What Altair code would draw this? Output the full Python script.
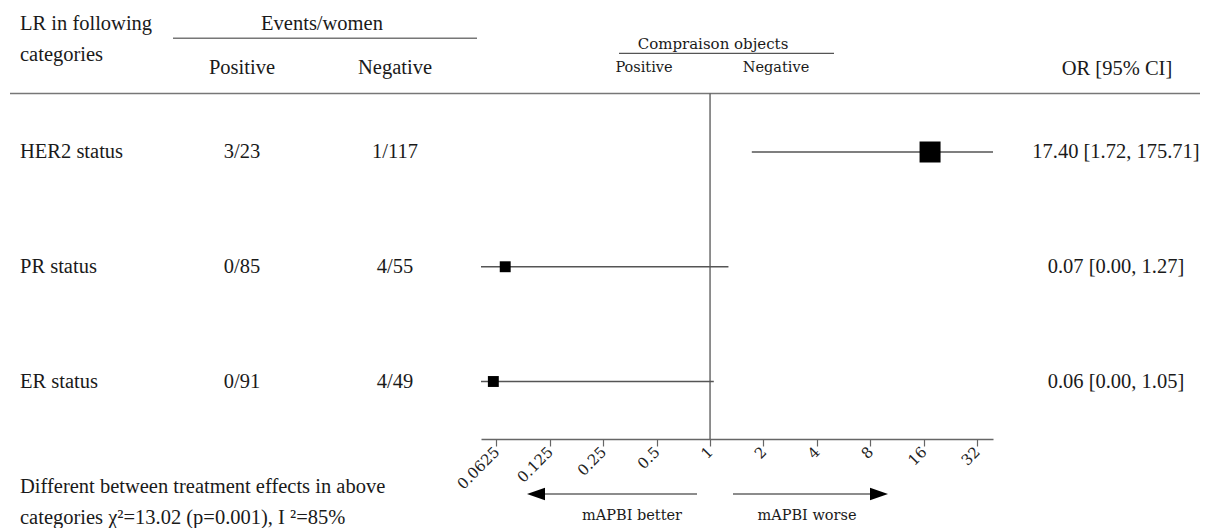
import altair as alt
import pandas as pd

# ---------------- data ----------------
categories = ["HER2 status", "PR status", "ER status"]
events_positive = ["3/23", "0/85", "0/91"]
events_negative = ["1/117", "4/55", "4/49"]
odds_ratio = [17.40, 0.07, 0.06]
ci_lower = [1.72, 0.00, 0.00]
ci_upper = [175.71, 1.27, 1.05]
box_weight = [1.0, 0.27, 0.27]
tick_values = [0.0625, 0.125, 0.25, 0.5, 1, 2, 4, 8, 16, 32]

header_col1 = ["LR in following", "categories"]
header_events = "Events/women"
header_pos = "Positive"
header_neg = "Negative"
header_comp = "Compraison objects"
header_or = "OR [95% CI]"
arrow_left_text = "mAPBI better"
arrow_right_text = "mAPBI worse"
footer_lines = ["Different between treatment effects in above",
                "categories  \u03c7\u00b2=13.02 (p=0.001), I \u00b2=85%"]

# ---------------- layout / style ----------------
SERIF = "Liberation Serif"
ALT = "DejaVu Serif"
TXT = "#1a1a1a"
XMIN, XMAX = 2 ** -4.29, 2 ** 5.30

rows = pd.DataFrame({
    "category": categories,
    "pos": events_positive,
    "neg": events_negative,
    "or": odds_ratio,
    "lo": ci_lower,
    "hi": ci_upper,
    "weight": box_weight,
})
rows["lo_plot"] = rows["lo"].clip(lower=XMIN)
rows["hi_plot"] = rows["hi"].clip(upper=XMAX)
rows["label"] = [f"{o:.2f} [{l:.2f}, {h:.2f}]" for o, l, h in zip(odds_ratio, ci_lower, ci_upper)]

xscale = alt.Scale(type="log", base=2, domain=[XMIN, XMAX], range=[473, 985], nice=False)
yscale = alt.Scale(type="point", domain=categories, range=[144, 373.5], padding=0)
ycat = alt.Y("category:N", scale=yscale, axis=None)

xaxis = alt.Axis(values=tick_values, format="~g", title=None, grid=False,
                 labelAngle=-45, labelAlign="right", labelBaseline="middle",
                 labelFont=ALT, labelFontSize=15, labelColor="#222",
                 labelPadding=3, tickSize=7, tickColor="#666",
                 domainColor="#666", domainWidth=1.3, tickWidth=1.2,
                 labelOverlap=False, labelFlush=False)

base = alt.Chart(rows)

ci = base.mark_rule(color="#555", strokeWidth=1.3).encode(
    x=alt.X("lo_plot:Q", scale=xscale, axis=xaxis),
    x2="hi_plot:Q",
    y=ycat,
)
boxes = base.mark_point(shape="square", filled=True, color="black", opacity=1, strokeWidth=0).encode(
    x=alt.X("or:Q", scale=xscale),
    y=ycat,
    size=alt.Size("weight:Q", scale=alt.Scale(domain=[0, 1], range=[0, 441]), legend=None),
)
null_line = alt.Chart(pd.DataFrame({"v": [1]})).mark_rule(color="#555", strokeWidth=1.3).encode(
    x=alt.X("v:Q", scale=xscale), y=alt.value(85.5), y2=alt.value(431)
)

col_name = base.mark_text(font=SERIF, fontSize=20.5, align="left", baseline="middle", color=TXT).encode(
    x=alt.value(12), y=ycat, text="category:N")
col_pos = base.mark_text(font=SERIF, fontSize=20.5, align="center", baseline="middle", color=TXT).encode(
    x=alt.value(234), y=ycat, text="pos:N")
col_neg = base.mark_text(font=SERIF, fontSize=20.5, align="center", baseline="middle", color=TXT).encode(
    x=alt.value(387), y=ycat, text="neg:N")
col_or = base.mark_text(font=SERIF, fontSize=20.5, align="center", baseline="middle", color=TXT).encode(
    x=alt.value(1108), y=ycat, text="label:N")


def label(text, x, y, align="left", font=SERIF, size=20.5, color=TXT):
    return alt.Chart(pd.DataFrame({"t": [text]})).mark_text(
        font=font, fontSize=size, align=align, baseline="alphabetic", color=color
    ).encode(text="t:N", x=alt.value(x), y=alt.value(y))


def hline(x1, x2, y, color="#777", width=1.5):
    return alt.Chart(pd.DataFrame({"a": [0]})).mark_rule(color=color, strokeWidth=width).encode(
        x=alt.value(x1), x2=alt.value(x2), y=alt.value(y))


def head(x, path, size=324):
    return alt.Chart(pd.DataFrame({"a": [0]})).mark_point(
        shape=path, filled=True, color="black", opacity=1, size=size, strokeWidth=0
    ).encode(x=alt.value(x), y=alt.value(486))


layers = [
    hline(2, 1192, 85.5),
    hline(165, 469, 30.3),
    hline(611, 826, 45.3, color="#555", width=1.2),
    null_line,
    ci,
    boxes,
    col_name, col_pos, col_neg, col_or,
    label(header_col1[0], 12, 22),
    label(header_col1[1], 12, 52.5),
    label(header_events, 314, 22, align="center"),
    label(header_pos, 234, 66, align="center"),
    label(header_neg, 387, 66, align="center"),
    label(header_comp, 705, 41, align="center", font=ALT, size=15),
    label(header_pos, 636, 63.5, align="center", font=ALT, size=14.5),
    label(header_neg, 768, 63.5, align="center", font=ALT, size=14.5),
    label(header_or, 1109, 66.7, align="center"),
    label(footer_lines[0], 12, 485.3),
    label(footer_lines[1], 12, 516),
    hline(530, 689, 486, color="#666", width=1.5),
    hline(725, 866, 486, color="#666", width=1.5),
    head(528, "M-1,0L1,-0.7L1,0.7Z"),
    head(871, "M1,0L-1,-0.7L-1,0.7Z"),
    label(arrow_left_text, 624, 512, align="center", font=ALT, size=14.5),
    label(arrow_right_text, 799, 512, align="center", font=ALT, size=14.5),
]

chart = alt.layer(*layers).properties(
    width=1192,
    height=431,
    autosize=alt.AutoSizeParams(type="none"),
    padding={"left": 0, "top": 0, "right": 0, "bottom": 89},
).configure_view(stroke=None)

chart.save("out.html", embed_options={"renderer": "svg", "actions": False})
